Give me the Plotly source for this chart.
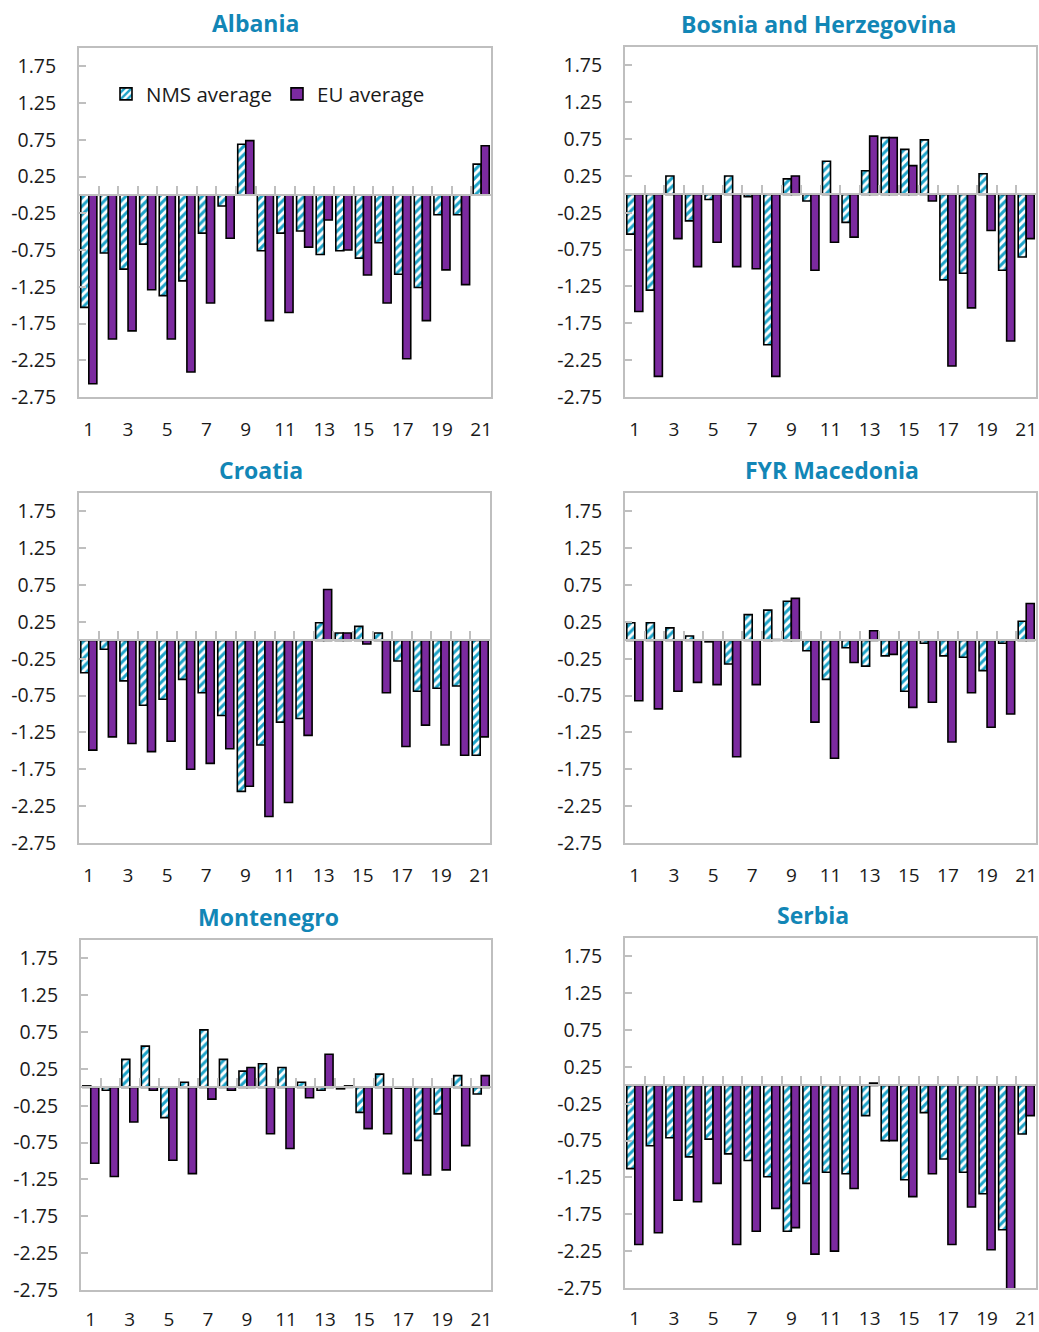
import plotly.graph_objects as go

# Category indices 1..21 shown on every panel
categories = list(range(1, 22))
x_tick_labels = list(range(1, 22, 2))
y_tick_values = [1.75, 1.25, 0.75, 0.25, -0.25, -0.75, -1.25, -1.75, -2.25, -2.75]
y_tick_labels = ["1.75", "1.25", "0.75", "0.25", "-0.25", "-0.75", "-1.25", "-1.75", "-2.25", "-2.75"]

series_names = ["NMS average", "EU average"]
country_names = ["Albania", "Bosnia and Herzegovina", "Croatia",
                 "FYR Macedonia", "Montenegro", "Serbia"]

albania_nms = [-1.53, -0.79, -1.01, -0.67, -1.37, -1.17, -0.52, -0.15, 0.69, -0.76, -0.52,
               -0.49, -0.81, -0.76, -0.86, -0.65, -1.08, -1.26, -0.27, -0.27, 0.42]
albania_eu = [-2.57, -1.96, -1.85, -1.29, -1.96, -2.41, -1.47, -0.59, 0.74, -1.71, -1.60,
              -0.71, -0.34, -0.75, -1.09, -1.47, -2.23, -1.71, -1.02, -1.22, 0.67]

bosnia_nms = [-0.54, -1.30, 0.25, -0.36, -0.07, 0.25, -0.03, -2.04, 0.21, -0.09, 0.45,
              -0.38, 0.32, 0.77, 0.61, 0.74, -1.16, -1.07, 0.28, -1.03, -0.85]
bosnia_eu = [-1.59, -2.47, -0.60, -0.98, -0.65, -0.98, -1.01, -2.47, 0.25, -1.03, -0.65,
             -0.58, 0.79, 0.77, 0.39, -0.09, -2.33, -1.54, -0.49, -1.99, -0.60]

croatia_nms = [-0.44, -0.12, -0.55, -0.88, -0.80, -0.53, -0.71, -1.02, -2.05, -1.42, -1.11,
               -1.06, 0.24, 0.10, 0.19, 0.10, -0.28, -0.69, -0.65, -0.62, -1.56]
croatia_eu = [-1.49, -1.31, -1.40, -1.51, -1.37, -1.75, -1.67, -1.47, -1.98, -2.39, -2.20,
              -1.29, 0.69, 0.10, -0.05, -0.71, -1.44, -1.15, -1.42, -1.56, -1.31]

macedonia_nms = [0.24, 0.24, 0.17, 0.06, -0.02, -0.32, 0.35, 0.41, 0.53, -0.14, -0.53,
                 -0.10, -0.35, -0.21, -0.69, -0.04, -0.21, -0.23, -0.41, -0.04, 0.26]
macedonia_eu = [-0.82, -0.93, -0.69, -0.57, -0.60, -1.58, -0.60, 0.01, 0.57, -1.11, -1.60,
                -0.30, 0.13, -0.19, -0.91, -0.84, -1.38, -0.71, -1.18, -1.00, 0.50]

montenegro_nms = [0.02, -0.04, 0.38, 0.56, -0.41, 0.07, 0.78, 0.38, 0.22, 0.32, 0.27,
                  0.07, -0.04, -0.02, -0.34, 0.18, -0.01, -0.72, -0.36, 0.16, -0.09]
montenegro_eu = [-1.03, -1.21, -0.47, -0.04, -0.99, -1.17, -0.16, -0.04, 0.27, -0.63, -0.83,
                 -0.14, 0.45, 0.02, -0.56, -0.63, -1.17, -1.19, -1.12, -0.79, 0.16]

serbia_nms = [-1.13, -0.82, -0.71, -0.97, -0.73, -0.93, -1.02, -1.24, -1.98, -1.33, -1.18,
              -1.20, -0.41, -0.75, -1.28, -0.37, -1.00, -1.18, -1.47, -1.96, -0.66]
serbia_eu = [-2.16, -2.00, -1.56, -1.58, -1.33, -2.16, -1.98, -1.67, -1.93, -2.29, -2.25,
             -1.40, 0.03, -0.75, -1.51, -1.20, -2.16, -1.65, -2.23, -2.80, -0.41]

nms_values = [albania_nms, bosnia_nms, croatia_nms, macedonia_nms, montenegro_nms, serbia_nms]
eu_values = [albania_eu, bosnia_eu, croatia_eu, macedonia_eu, montenegro_eu, serbia_eu]

# Page geometry (pixels)
W, H = 1039, 1332
Y_RANGE = [-2.75, 2.0]

# plot boxes: (left, right, top, bottom) in pixels
boxes = [
    (79, 491, 48, 397),
    (625, 1036, 47, 397),
    (79, 490, 493, 843),
    (625, 1036, 493, 843),
    (81, 491, 940, 1290),
    (625, 1036, 938, 1288),
]
# gap between each panel's box and its category labels
x_label_standoff = [14, 14, 14, 14, 11, 12]
# panel title centres (pixels)
title_pos = [(255, 23), (818, 24), (261, 470), (832, 470), (268, 917), (813, 915)]

NMS_FILL = "#1ea3c8"
EU_FILL = "#7b2a9f"
AXIS_GREY = "#bfbfbf"
TEXT_COLOR = "#1a1a1a"
TITLE_COLOR = "#1286b6"
FONT = "Open Sans, Noto Sans, DejaVu Sans, sans-serif"

fig = go.Figure()
layout = {}
annotations = []

for i in range(6):
    n = i + 1
    sfx = "" if n == 1 else str(n)
    ov = str(n + 6)
    left, right, top, bottom = boxes[i]
    xdom = [left / W, right / W]
    ydom = [1 - bottom / H, 1 - top / H]

    fig.add_trace(go.Bar(
        x=categories, y=nms_values[i], name=series_names[0],
        xaxis="x" + sfx, yaxis="y" + sfx,
        legendgroup="nms", showlegend=(i == 0),
        marker=dict(color="white",
                    line=dict(color="#000000", width=1.6),
                    pattern=dict(shape="/", fgcolor=NMS_FILL, bgcolor="white",
                                 size=6, solidity=0.5, fillmode="replace")),
    ))
    fig.add_trace(go.Bar(
        x=categories, y=eu_values[i], name=series_names[1],
        xaxis="x" + sfx, yaxis="y" + sfx,
        legendgroup="eu", showlegend=(i == 0),
        marker=dict(color=EU_FILL, line=dict(color="#000000", width=1.6)),
    ))
    # empty trace so the zero-line tick axis gets its own subplot
    fig.add_trace(go.Scatter(x=[None], y=[None], xaxis="x" + ov, yaxis="y" + sfx,
                             showlegend=False, hoverinfo="skip"))

    layout["xaxis" + sfx] = dict(
        domain=xdom, anchor="y" + sfx, range=[0.5, 21.5], automargin=False,
        tickmode="array", tickvals=x_tick_labels, ticktext=[str(v) for v in x_tick_labels],
        ticks="", showline=True, mirror=True, linecolor=AXIS_GREY, linewidth=2,
        showgrid=False, zeroline=False, ticklabelstandoff=x_label_standoff[i],
        tickfont=dict(family=FONT, size=19, color=TEXT_COLOR),
    )
    layout["yaxis" + sfx] = dict(
        domain=ydom, anchor="x" + sfx, range=Y_RANGE, automargin=False,
        tickmode="array", tickvals=y_tick_values, ticktext=y_tick_labels,
        ticks="inside", ticklen=7, tickwidth=1.5, tickcolor=AXIS_GREY,
        showline=True, mirror=True, linecolor=AXIS_GREY, linewidth=2,
        showgrid=False, zeroline=False, ticklabelstandoff=17,
        tickfont=dict(family=FONT, size=19.5, color=TEXT_COLOR),
    )
    # horizontal axis through zero with ticks between categories
    zero_frac = (0 - Y_RANGE[0]) / (Y_RANGE[1] - Y_RANGE[0])
    layout["xaxis" + ov] = dict(
        domain=xdom, overlaying="x" + sfx, anchor="free", automargin=False,
        position=ydom[0] + zero_frac * (ydom[1] - ydom[0]),
        range=[0.5, 21.5], side="bottom",
        tickmode="array", tickvals=[k + 0.5 for k in range(1, 21)],
        ticks="inside", ticklen=8, tickwidth=2, tickcolor=AXIS_GREY,
        showticklabels=False, showline=True, linecolor=AXIS_GREY, linewidth=2,
        showgrid=False, zeroline=False, layer="above traces",
    )
    tx, ty = title_pos[i]
    annotations.append(dict(
        text="<b>%s</b>" % country_names[i], x=tx / W, y=1 - ty / H,
        xref="paper", yref="paper", xanchor="center", yanchor="middle",
        showarrow=False, font=dict(family=FONT, size=23, color=TITLE_COLOR),
    ))

fig.update_layout(
    width=W, height=H, autosize=False,
    margin=dict(l=0, r=0, t=0, b=0, autoexpand=False),
    paper_bgcolor="white", plot_bgcolor="white",
    barmode="group", bargap=0.18, bargroupgap=0.0,
    showlegend=True,
    legend=dict(orientation="h", x=106 / W, y=1 - 94 / H, xanchor="left", yanchor="middle",
                bgcolor="rgba(0,0,0,0)", font=dict(family=FONT, size=20.5, color=TEXT_COLOR),
                itemwidth=30, traceorder="normal"),
    annotations=annotations,
    **layout,
)

fig.write_html("out.html", config={"responsive": False},
               default_width="%dpx" % W, default_height="%dpx" % H)
